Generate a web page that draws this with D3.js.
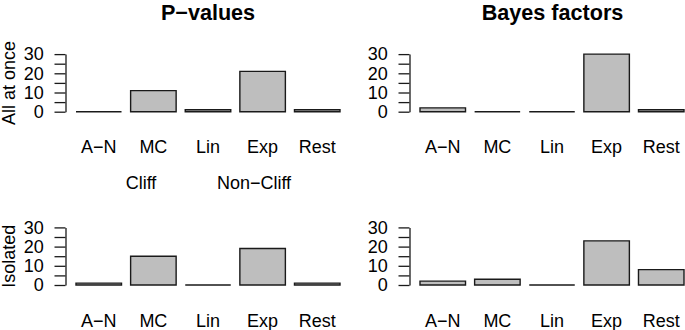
<!DOCTYPE html>
<html>
<head>
<meta charset="utf-8">
<script src="https://cdn.jsdelivr.net/npm/d3@7"></script>
<style>
  body { margin: 0; background: white; }
  svg { display: block; font-family: "Liberation Sans", Arial, sans-serif; }
</style>
</head>
<body>
<div id="chart"></div>
<script>
// Data
const categories = ['A\u2212N', 'MC', 'Lin', 'Exp', 'Rest'];
const pAll = [0, 11, 1, 21, 1];
const bfAll = [2, 0, 0, 30, 1];
const pIso = [1, 15, 0, 19, 1];
const bfIso = [2, 3, 0, 23, 8];
const yTicks = [0, 5, 10, 15, 20, 25, 30];
const yLabels = [0, 10, 20, 30];
const colTitles = ['P\u2212values', 'Bayes factors'];
const rowTitles = ['All at once', 'Isolated'];
const groupLabels = ['Cliff', 'Non\u2212Cliff'];

const width = 685, height = 330;

const svg = d3.select('#chart')
    .append('svg')
    .attr('width', width)
    .attr('height', height);

// panel geometry
const colX = [76, 420];           // left edge of first bar
const barsW = 264;                // first bar left to last bar right
const axisGap = 10.5;             // axis sits left of first bar
const rowY = [[111.7, 54.1], [285, 227.4]]; // y of 0 and 30

const panels = [
    { row: 0, col: 0, values: pAll },
    { row: 0, col: 1, values: bfAll },
    { row: 1, col: 0, values: pIso },
    { row: 1, col: 1, values: bfIso }
];

panels.forEach(p => {
    const x = d3.scaleBand()
        .domain(categories)
        .range([colX[p.col], colX[p.col] + barsW])
        .paddingInner(1 / 6)
        .paddingOuter(0);

    const y = d3.scaleLinear()
        .domain([0, 30])
        .range(rowY[p.row]);

    const g = svg.append('g');

    // bars (paths so zero-height bars still show as a line)
    g.selectAll('.bar')
        .data(p.values)
        .enter()
        .append('path')
        .attr('class', 'bar')
        .attr('d', (d, i) => {
            const x0 = x(categories[i]);
            const w = x.bandwidth();
            return `M${x0},${y(0)}H${x0 + w}V${y(d)}H${x0}Z`;
        })
        .attr('fill', '#bebebe')
        .attr('stroke', '#1a1a1a')
        .attr('stroke-width', 1.4);

    // y axis
    const axis = g.append('g')
        .attr('transform', `translate(${colX[p.col] - axisGap},0)`)
        .call(d3.axisLeft(y)
            .tickValues(yTicks)
            .tickSize(11)
            .tickSizeOuter(0)
            .tickPadding(10.7)
            .tickFormat(d => yLabels.includes(d) ? d : ''));
    axis.selectAll('path, line')
        .attr('stroke', '#1a1a1a')
        .attr('stroke-width', 1.3);
    axis.selectAll('text')
        .attr('fill', 'black')
        .style('font-size', '18px')
        .style('font-family', '"Liberation Sans", Arial, sans-serif');

    // category labels
    g.selectAll('.cat')
        .data(categories)
        .enter()
        .append('text')
        .attr('x', d => x(d) + x.bandwidth() / 2)
        .attr('y', rowY[p.row][0] + 41.5)
        .attr('text-anchor', 'middle')
        .style('font-size', '18px')
        .text(d => d);
});

// column titles
colTitles.forEach((t, i) => {
    svg.append('text')
        .attr('x', [208, 552.5][i])
        .attr('y', 19.5)
        .attr('text-anchor', 'middle')
        .style('font-size', '21.6px')
        .style('font-weight', 'bold')
        .text(t);
});

// row titles
rowTitles.forEach((t, i) => {
    const cy = (rowY[i][0] + rowY[i][1]) / 2;
    svg.append('text')
        .attr('transform', `translate(15,${cy}) rotate(-90)`)
        .attr('text-anchor', 'middle')
        .style('font-size', '18px')
        .text(t);
});

// group labels between rows
groupLabels.forEach((t, i) => {
    svg.append('text')
        .attr('x', [141, 254][i])
        .attr('y', 189)
        .attr('text-anchor', 'middle')
        .style('font-size', '18px')
        .text(t);
});
</script>
</body>
</html>
